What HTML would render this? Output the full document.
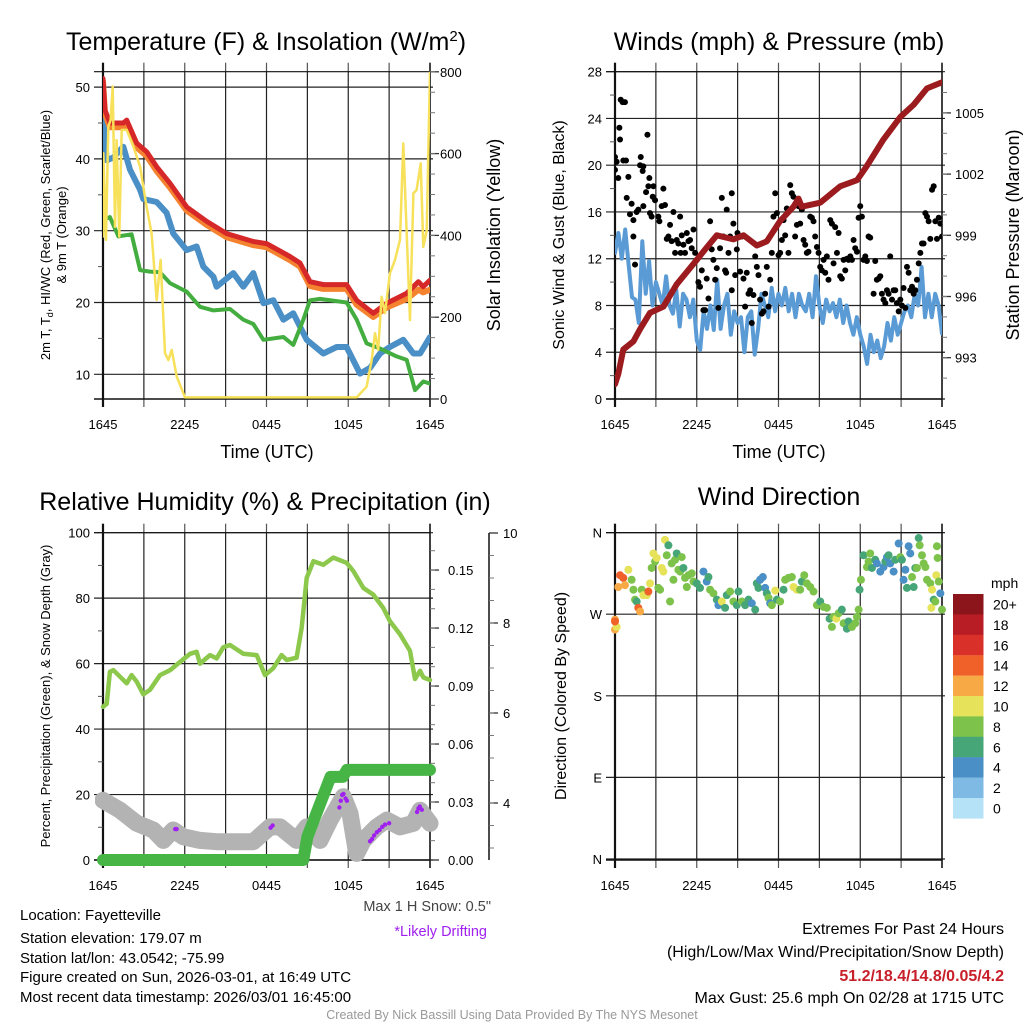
<!DOCTYPE html>
<html><head><meta charset="utf-8">
<style>
html,body{margin:0;padding:0;background:#fff;}
svg{display:block;font-family:"Liberation Sans",Arial,sans-serif;}
</style></head>
<body>
<svg id="fig" width="1024" height="1024" viewBox="0 0 1024 1024" xmlns="http://www.w3.org/2000/svg">
<rect width="1024" height="1024" fill="#fff"/>
<defs>
<clipPath id="c1"><rect x="103" y="71.7" width="327" height="327.3"/></clipPath>
<clipPath id="c2"><rect x="615" y="71.7" width="327" height="327.3"/></clipPath>
<clipPath id="c3"><rect x="95" y="525" width="345" height="345"/></clipPath>
<clipPath id="c4"><rect x="610" y="527" width="340" height="338"/></clipPath>
</defs>
<g id="layer"></g>
<text x="266" y="50" font-size="25" text-anchor="middle">Temperature (F) &amp; Insolation (W/m<tspan dy="-9" font-size="15">2</tspan><tspan dy="9">)</tspan></text>
<text x="779" y="50" font-size="25" text-anchor="middle">Winds (mph) &amp; Pressure (mb)</text>
<text x="265" y="510" font-size="25" text-anchor="middle">Relative Humidity (%) &amp; Precipitation (in)</text>
<text x="779" y="505" font-size="25" text-anchor="middle">Wind Direction</text>
<text x="267" y="458" font-size="18" text-anchor="middle">Time (UTC)</text>
<text x="779" y="458" font-size="18" text-anchor="middle">Time (UTC)</text>
<text transform="translate(500,235) rotate(-90)" font-size="18" text-anchor="middle">Solar Insolation (Yellow)</text>
<text transform="translate(50,235) rotate(-90)" font-size="13" text-anchor="middle">2m T, T<tspan dy="3" font-size="9">d</tspan><tspan dy="-3">, HI/WC (Red, Green, Scarlet/Blue)</tspan></text>
<text transform="translate(66,235) rotate(-90)" font-size="13" text-anchor="middle">&amp; 9m T (Orange)</text>
<text transform="translate(564,235) rotate(-90)" font-size="16" text-anchor="middle">Sonic Wind &amp; Gust (Blue, Black)</text>
<text transform="translate(1019,235) rotate(-90)" font-size="18" text-anchor="middle">Station Pressure (Maroon)</text>
<text transform="translate(50,696) rotate(-90)" font-size="13" text-anchor="middle">Percent, Precipitation (Green), &amp; Snow Depth (Gray)</text>
<text transform="translate(566,696) rotate(-90)" font-size="16" text-anchor="middle">Direction (Colored By Speed)</text>
<text x="491" y="911" font-size="14.5" fill="#444" text-anchor="end">Max 1 H Snow: 0.5"</text>
<text x="487" y="936" font-size="14.5" fill="#a020f0" text-anchor="end">*Likely Drifting</text>
<g font-size="15">
<text x="20" y="920">Location: Fayetteville</text>
<text x="20" y="943">Station elevation: 179.07 m</text>
<text x="20" y="963">Station lat/lon: 43.0542; -75.99</text>
<text x="20" y="982">Figure created on Sun, 2026-03-01, at 16:49 UTC</text>
<text x="20" y="1002">Most recent data timestamp: 2026/03/01 16:45:00</text>
</g>
<g font-size="16" text-anchor="end">
<text x="1004" y="934">Extremes For Past 24 Hours</text>
<text x="1004" y="957">(High/Low/Max Wind/Precipitation/Snow Depth)</text>
<text x="1004" y="981" fill="#c8202a" font-weight="bold">51.2/18.4/14.8/0.05/4.2</text>
<text x="1004" y="1003">Max Gust: 25.6 mph On 02/28 at 1715 UTC</text>
</g>
<text x="512" y="1019" font-size="12.5" fill="#999" text-anchor="middle">Created By Nick Bassill Using Data Provided By The NYS Mesonet</text>
</svg>
<script>
// ---------- DATA ----------
var tTime=[0,0.15,0.51,1.49,1.74,2.47,3.2,3.94,4.92,6.14,7.61,9.08,11.03,12.0,13.72,14.46,15.19,16.17,17.88,18.62,19.84,20.82,22.3,23.15,23.5,24];
var tempRed=[51.2,46.8,45,45,45.4,42.2,41,38.9,36.6,33.3,31.3,29.6,28.5,28.2,26.4,25.5,22.9,22.5,22.5,20.3,18.5,19.9,21.3,22.9,22.2,23.1];
var temp9m=[50.8,46.3,44.4,44.4,44.8,41.6,40.4,38.3,36.0,32.8,30.8,29.1,28.0,27.7,25.9,25.0,22.3,21.9,21.9,19.7,18.0,19.3,20.5,21.8,21.4,21.8];
var wcTime=[0,0.27,0.76,1.49,1.98,2.72,2.96,3.94,4.67,5.16,6.14,6.87,7.36,8.1,8.34,9.57,10.3,11.03,11.77,12.5,13.24,13.97,14.95,16.17,17.15,17.88,18.86,19.6,20.33,21.06,22.04,22.78,23.27,24];
var windChill=[46.8,39.8,40.2,41.7,38.5,35.7,34.4,34,32.5,29.6,27.3,27.8,25,23.6,22.2,24.1,22.2,24.1,19.9,20.3,17.6,18.5,14.8,12.9,13.8,13.8,10.1,10.9,12.9,13.8,14.8,12.9,12.9,15.2];
var tdTime=[0,0.51,1.13,2.1,2.72,3.45,4.18,4.92,6.14,7.12,8.1,9.32,10.3,11.03,11.77,13.24,13.97,14.7,15.19,15.93,17.88,18.62,19.35,20.33,21.55,22.29,22.9,23.51,24];
var dewPoint=[31.5,31.9,29.2,29.5,24.5,24.3,24.2,22.7,21.5,19.4,18.9,19.1,17.6,17.0,14.8,15.2,14.1,17.6,20.3,20.5,20.0,17.6,14.3,13.6,12.5,12.0,7.8,9.0,8.7];
var solTime=[0,0.02,0.22,0.39,0.56,0.71,0.88,1.0,1.2,1.37,1.74,2.23,2.72,3.2,3.57,3.94,4.23,4.55,4.8,5.04,5.41,6.02,18.62,19.35,19.72,19.96,20.2,20.45,20.7,21.06,21.43,21.8,22.04,22.29,22.53,22.78,23.02,23.32,23.51,23.76,24];
var solar=[397,601,389,666,682,764,421,633,397,658,658,617,568,470,405,242,340,112,95,120,55,4,4,30,95,161,120,250,210,307,340,389,625,405,193,503,511,576,372,413,800];
var tempTicks=[10,20,30,40,50];
var solarTicks=[0,200,400,600,800];
var timeLabels=["1645","2245","0445","1045","1645"];

var presTime=[0,0.24,0.61,1.35,1.84,2.57,3.55,4.53,6.0,6.73,7.47,8.69,9.43,10.41,11.14,12.12,13.1,13.47,13.71,15.06,16.53,17.76,18.49,19.71,20.94,21.92,22.9,24];
var pressure=[991.7,992.2,993.4,993.8,994.4,995.2,995.5,996.6,997.8,998.4,999.0,998.8,999.0,998.5,998.7,999.7,1000.4,1000.8,1000.4,1000.6,1001.4,1001.7,1002.4,1003.7,1004.8,1005.4,1006.2,1006.5];
var windStep=0.25;
var windSpeed=[12.5,14.2,12,14.5,11.5,8.7,8.5,6.5,13.5,9,11.8,8,10,9,8,10.5,8,7.3,9.3,6.2,9,8.5,7,8.5,5,4.2,7.5,6,8,5.9,10.2,6,8,9,5.5,7.5,6.5,7,4,7,7.5,3.8,6,9,8,7,9.5,7.5,9,8,9.5,7.5,9,7,9,8,7.5,9,7,10.5,8,6.5,8.5,7.5,8.2,7,8.5,6.5,8,6.5,5.5,7,5.5,4.5,3,5.5,4,5,3.5,4.5,6.5,5,7,5.5,6.5,7.5,8,7,9,8,11.3,7,9,7,9,8,5.6];
var gustTime=[0,0,0.12,0.24,0.32,0.37,0.42,0.56,0.73,0.61,0.81,0.86,0.98,1.1,1.22,1.35,1.35,1.47,1.59,1.71,1.84,1.89,2.03,2.08,2.08,2.28,2.38,2.45,2.52,2.57,2.69,2.77,2.82,2.94,3.18,3.26,3.43,3.55,3.67,3.8,3.92,4.04,4.16,4.29,4.41,4.53,4.65,4.78,4.82,4.9,5.02,5.14,5.27,5.39,5.51,5.63,5.76,5.88,6.0,6.12,6.24,6.37,6.49,6.61,6.73,6.86,6.98,7.1,7.22,7.35,7.47,7.59,7.71,7.84,7.96,8.08,8.16,8.2,8.33,8.45,8.57,8.57,8.69,8.82,8.94,8.99,9.18,9.31,9.43,9.55,9.67,9.8,9.92,10.04,10.16,10.29,10.41,10.53,10.65,10.78,10.9,11.02,11.14,11.27,11.39,11.51,11.63,11.76,11.88,12.0,12.12,12.25,12.37,12.49,12.61,12.73,12.86,12.98,13.1,13.22,13.35,13.47,13.59,13.71,13.84,13.96,14.08,14.2,14.33,14.45,14.57,14.69,14.82,14.94,15.06,15.18,15.31,15.43,15.55,15.67,15.8,15.92,16.04,16.16,16.29,16.41,16.53,16.65,16.78,16.9,17.02,17.14,17.27,17.39,17.51,17.63,17.76,17.88,18.0,18.12,18.24,18.37,18.49,18.61,18.73,18.98,19.1,19.22,19.35,19.47,19.59,19.71,19.84,19.96,20.08,20.2,20.33,20.45,20.57,20.69,20.82,20.94,21.06,21.18,21.31,21.43,21.55,21.67,21.8,21.92,22.04,22.16,22.29,22.41,22.53,22.65,22.78,22.9,23.02,23.14,23.27,23.39,23.51,23.63,23.76,23.88,24.0];
var gustSpeed=[20.7,19.6,20.3,18.9,23.2,22.2,25.6,25.4,25.4,20.4,20.4,17.2,19.0,15.8,16.7,15.3,13.9,11.5,16.0,16.2,20.0,20.7,19.5,19.9,16.5,17.7,22.6,18.2,18.9,15.9,15.6,17.3,18.2,17.0,15.6,15.2,16.5,18.0,16.6,13.7,13.9,14.9,13.5,16.0,12.5,13.6,13.3,15.6,12.5,14.0,13.2,12.5,14.2,13.5,13.6,12.9,14.5,12.5,11.9,10.0,9.6,11.0,7.6,7.6,10.3,8.6,15.2,12.8,11.9,10.2,11.2,7.8,12.9,17.2,13.9,11.0,10.8,16.2,12.5,13.9,17.6,9.3,15.0,10.6,12.8,14.2,10.9,13.9,10.3,7.9,10.8,9.0,9.3,6.5,8.9,12.2,11.3,10.6,8.5,7.3,7.5,9.0,11.3,7.9,10.2,12.5,15.6,17.6,15.9,12.3,12.5,13.6,15.3,14.0,16.3,12.5,18.3,17.6,17.3,13.9,14.9,16.5,15.0,16.2,13.6,13.2,12.5,12.6,15.6,15.5,15.2,13.9,13.0,12.5,11.3,11.0,11.9,10.8,12.2,10.2,15.3,15.0,11.6,14.7,12.5,14.2,10.5,10.3,11.9,11.0,12.0,11.9,12.2,11.9,13.6,12.9,12.6,15.5,16.5,15.6,11.9,12.2,11.8,13.9,13.8,9.0,11.8,10.2,10.3,10.5,9.0,8.5,8.2,9.3,9.0,12.2,8.5,9.3,9.3,8.2,7.5,8.5,8.0,9.5,7.8,11.3,10.8,9.3,9.6,9.0,9.3,10.2,11.6,12.5,13.3,13.3,15.9,15.6,15.2,13.7,17.9,18.2,15.2,13.7,15.5,15.0,13.9];
var windTicks=[0,4,8,12,16,20,24,28];
var presTicks=[993,996,999,1002,1005];

var rhTime=[0,0.27,0.51,0.76,1.25,1.74,2.1,2.47,2.96,3.45,4.18,4.92,5.65,6.39,6.87,7.12,7.85,8.34,8.83,9.32,10.3,11.28,11.89,12.5,13.11,13.48,14.21,14.58,14.95,15.44,16.17,16.9,17.88,18.37,19.11,19.84,20.57,21.06,21.8,22.53,22.9,23.27,23.51,24];
var humidity=[46.8,47.7,57.5,58,56,54,56.5,54.5,50.6,52,56.5,58,60.5,63,63.6,60,62.6,61.6,65,65.7,63,62.6,56.5,58.6,62.6,61.1,61.8,71,86.2,91.3,90.2,92.4,90.8,88.3,83.1,81.1,77,73,69,63.9,55.3,57.8,55.8,55.0];
var precipTime=[0,14.7,15.0,16.7,17.6,17.9,24];
var precip=[0,0,0.012,0.043,0.043,0.0466,0.0466];
var snowTime=[0,1.25,2.47,3.69,4.43,5.16,5.9,7.12,8.34,11.03,12.26,12.99,14.21,14.95,15.93,16.66,17.64,18.13,18.62,19.11,20.09,20.82,21.8,22.78,23.27,24];
var snowDepth=[4.06,3.84,3.55,3.4,3.17,3.4,3.25,3.17,3.14,3.14,3.47,3.47,3.17,3.47,3.17,3.62,4.14,3.77,2.88,3.17,3.47,3.62,3.47,3.55,3.84,3.55];
var driftTime=[5.3,5.4,12.3,12.45,17.35,17.45,17.55,17.65,17.8,17.9,19.6,19.75,19.9,20.1,20.3,20.5,20.7,21.0,23.05,23.15,23.25,23.4];
var driftDepth=[3.42,3.42,3.45,3.5,3.9,4.05,4.18,4.2,4.1,4.05,3.15,3.2,3.28,3.35,3.4,3.47,3.52,3.55,3.8,3.88,3.92,3.85];
var rhTicks=[0,20,40,60,80,100];
var precipTicks=["0.00","0.03","0.06","0.09","0.12","0.15"];
var snowTicks=[4,6,8,10];

var dirTime=[0,0,0.12,0,0.24,0.37,0.61,0.73,0.98,1.22,1.35,1.47,1.59,1.71,1.84,1.96,2.08,2.33,2.45,2.57,2.69,2.82,2.94,3.06,3.18,3.31,3.43,3.55,3.67,3.8,3.92,4.04,4.16,4.29,4.41,4.53,4.65,4.78,4.9,5.02,5.14,5.27,5.39,5.63,5.76,6.0,6.24,6.49,6.73,6.86,6.98,7.22,7.47,7.59,7.84,8.08,8.2,8.45,8.69,8.94,9.06,9.31,9.55,9.8,10.04,10.29,10.41,10.53,10.65,10.85,11.02,11.14,11.27,11.39,11.51,11.76,11.88,12.12,12.37,12.49,12.73,12.98,13.1,13.35,13.59,13.71,13.89,14.08,14.33,14.57,14.82,15.06,15.31,15.55,15.75,15.92,16.04,16.24,16.41,16.65,16.78,17.02,17.14,17.39,17.63,17.76,17.88,17.95,18.05,18.24,18.49,18.61,18.73,18.86,19.1,19.22,19.47,19.71,19.84,19.96,20.08,20.2,20.45,20.57,20.82,20.94,21.06,21.18,21.31,21.43,21.55,21.67,21.8,21.92,22.04,22.16,22.29,22.36,22.53,22.65,22.78,22.9,23.14,23.22,23.27,23.39,23.51,23.58,23.63,23.68,23.76,23.88,24.0];
var direction=[264,253,256,262,300,313,310,302,319,308,297,286,284,277,273,297,291,291,295,304,321,337,328,332,299,297,321,317,352,335,346,284,326,308,330,337,319,317,333,321,310,300,313,315,306,304,299,317,306,311,297,293,286,280,284,277,291,295,284,280,295,284,280,286,282,275,304,299,308,311,299,293,288,282,280,296,286,284,297,308,310,311,300,297,297,306,313,304,300,295,280,284,278,277,265,256,267,265,271,275,260,254,262,256,260,267,275,297,308,335,322,328,337,321,330,326,317,322,328,333,335,326,317,330,348,333,330,308,319,299,345,337,311,300,321,321,354,346,335,326,322,308,304,277,297,286,284,313,345,332,306,293,275];
var dirSpeed=[13,13,11,15,13,15,15,13,11,9,9,9,7,15,13,9,11,11,15,11,9,11,9,11,9,9,11,11,11,9,7,9,9,9,9,7,9,9,9,7,9,9,9,9,9,7,7,5,5,7,9,9,7,5,11,7,7,9,9,7,7,9,7,7,5,7,7,7,5,5,5,7,9,5,9,11,7,9,7,9,9,9,11,11,9,7,9,9,9,9,9,7,9,9,7,9,9,11,9,7,9,7,7,9,9,9,9,7,9,7,9,9,9,7,7,5,5,5,7,5,7,5,5,7,5,9,7,5,5,7,5,5,9,7,7,9,7,9,9,9,9,9,9,11,11,7,9,11,9,9,9,5,9];
var dirLabels=["N","E","S","W","N"];
var speedBins=["0","2","4","6","8","10","12","14","16","18","20+"];
var speedColors=["#b5e2f7","#7ebae4","#4a8fc6","#47a677","#7cc24b","#e6e25a","#f6a945","#f0612a","#d9302a","#b81c24","#8b151b"];

// ---------- DRAW ----------
var NS="http://www.w3.org/2000/svg";
var layer=document.getElementById('layer');
function mk(tag,attrs,parent){var e=document.createElementNS(NS,tag);for(var k in attrs)e.setAttribute(k,attrs[k]);(parent||layer).appendChild(e);return e;}
function txt(x,y,s,size,anchor,parent){var t=mk('text',{x:x,y:y,'font-size':size,'text-anchor':anchor},parent);t.textContent=s;return t;}

var P1={x0:103,x1:430,t:71.7,b:399};
var P2={x0:615,x1:942,t:71.7,b:399};
var P3={x0:103,x1:430,t:532.7,b:860};
var P4={x0:615,x1:942,t:532.7,b:860};
function sx(P,h){return P.x0+h/24*(P.x1-P.x0);}
function yTemp(v){return 374.3-(v-10)*7.18;}
function ySolar(v){return 399-v*0.409;}
function yWind(v){return 399-v*11.69;}
function yPres(v){return 357.7-(v-993)*20.4;}
function yRH(v){return 860-v*3.273;}
function yPrecip(v){return 860-v*1933;}
function ySnow(v){return 803-(v-4)*45;}
function yDir(v){return 859-v*0.9067;}

function frame(P,name,hTicks,yfun){
  var g=mk('g',{});
  
  
  for(var i=0;i<=8;i++){var x=sx(P,i*3);
    mk('line',{x1:x,y1:P.t,x2:x,y2:P.b,stroke:'#222','stroke-width':1.2},g);
    mk('line',{x1:x,y1:P.t-9,x2:x,y2:P.t,stroke:'#555','stroke-width':1.2},g);
    mk('line',{x1:x,y1:P.b,x2:x,y2:P.b+8,stroke:'#555','stroke-width':1.2},g);}
  hTicks.forEach(function(v){var y=yfun(v);
    mk('line',{x1:P.x0-9,y1:y,x2:P.x1+3,y2:y,stroke:'#222','stroke-width':1.2},g);});
  mk('line',{x1:P.x0-9,y1:P.t,x2:P.x1,y2:P.t,stroke:'#111','stroke-width':1.2},g);
  mk('line',{x1:P.x0-9,y1:P.b,x2:P.x1,y2:P.b,stroke:'#111','stroke-width':1.5},g);
  mk('line',{x1:P.x0,y1:P.t-9,x2:P.x0,y2:P.b+8,stroke:'#111','stroke-width':2.2},g);
  mk('line',{x1:P.x1,y1:P.t-9,x2:P.x1,y2:P.b+8,stroke:'#111','stroke-width':1.5},g);
  var lg=mk('g',{});
  
  
  timeLabels.forEach(function(s,i){txt(sx(P,i*6),P.b+30,s,13,'middle',lg);});
}
function polyline(P,times,vals,yfun,color,width,clip,name){
  var pts=times.map(function(h,i){return sx(P,h).toFixed(1)+','+yfun(vals[i]).toFixed(1);}).join(' ');
  var e=mk('polyline',{points:pts,fill:'none',stroke:color,'stroke-width':width,'stroke-linejoin':'round','stroke-linecap':'round','clip-path':'url(#'+clip+')'});
  
  
  return e;
}
function leftTicks(P,ticks,yfun,labels,minor,name){
  var g=mk('g',{});
  
  
  ticks.forEach(function(v,i){txt(P.x0-13,yfun(v)+5,labels?labels[i]:String(v),13,'end',g);});
  (minor||[]).forEach(function(v){var y=yfun(v);mk('line',{x1:P.x0-5,y1:y,x2:P.x0,y2:y,stroke:'#555','stroke-width':1},g);});
}
function rightTicks(x,ticks,yfun,labels,minor,name,lx){
  var g=mk('g',{});
  
  
  ticks.forEach(function(v,i){var y=yfun(v);mk('line',{x1:x,y1:y,x2:x+9,y2:y,stroke:'#333','stroke-width':1.3},g);txt(lx,y+5,labels?labels[i]:String(v),13,'start',g);});
  (minor||[]).forEach(function(v){var y=yfun(v);mk('line',{x1:x,y1:y,x2:x+5,y2:y,stroke:'#777','stroke-width':1},g);});
}
function range(a,b,s){var r=[];for(var v=a;v<=b+1e-9;v+=s)r.push(Math.round(v*1000)/1000);return r;}

// Panel 1
frame(P1,'temp-panel',tempTicks,yTemp);
leftTicks(P1,tempTicks,yTemp,null,[15,25,35,45],'temp-y-ticks');
rightTicks(P1.x1,solarTicks,ySolar,null,range(50,800,50),'solar-y-ticks',440);
polyline(P1,wcTime,windChill,yTemp,'#4a8fc6',6,'c1','wind-chill-line');
polyline(P1,tdTime,dewPoint,yTemp,'#43ad3f',4,'c1','dewpoint-line');
polyline(P1,tTime,temp9m,yTemp,'#f5822e',6,'c1','temp-9m-line');
polyline(P1,tTime,tempRed,yTemp,'#d62828',5,'c1','temp-2m-line');
polyline(P1,solTime,solar,ySolar,'#f7e15a',2.5,'c1','solar-line');

// Panel 2
frame(P2,'winds-panel',windTicks,yWind);
leftTicks(P2,windTicks,yWind,null,range(2,26,4),'wind-y-ticks');
rightTicks(P2.x1,presTicks,yPres,null,range(992,1006,1),'pressure-y-ticks',955);
var wTimes=windSpeed.map(function(v,i){return i*windStep;});
polyline(P2,wTimes,windSpeed,yWind,'#5a9bd5',4,'c2','sonic-wind-line');
var gg=mk('g',{'clip-path':'url(#c2)'});


gustTime.forEach(function(h,i){
  var c=mk('circle',{cx:sx(P2,h),cy:yWind(gustSpeed[i]),r:3,fill:'#000'},gg);
  
  
});
polyline(P2,presTime,pressure,yPres,'#9b1b1e',6,'c2','pressure-line');

// Panel 3
frame(P3,'humidity-panel',rhTicks,yRH);
leftTicks(P3,rhTicks,yRH,null,[10,30,50,70,90],'rh-y-ticks');
rightTicks(P3.x1,precipTicks.map(Number),yPrecip,precipTicks,range(0.01,0.16,0.01),'precip-y-ticks',448);
var sa=mk('line',{x1:489,y1:533,x2:489,y2:860,stroke:'#111','stroke-width':1.5});


rightTicks(489,snowTicks,ySnow,null,range(3,9.5,0.5),'snow-y-ticks',503);
polyline(P3,snowTime,snowDepth,ySnow,'#b3b3b3',17,'c3','snow-depth-line');
var dg=mk('g',{'clip-path':'url(#c3)'});


driftTime.forEach(function(h,i){
  var c=mk('circle',{cx:sx(P3,h),cy:ySnow(driftDepth[i]),r:2.2,fill:'#a020f0'},dg);
  
  
});
polyline(P3,rhTime,humidity,yRH,'#8cc84b',4.5,'c3','humidity-line');
polyline(P3,precipTime,precip,yPrecip,'#47b545',12,'c3','precip-line');

// Panel 4
frame(P4,'direction-panel',[0,90,180,270,360],yDir);
leftTicks(P4,[0,90,180,270,360],yDir,dirLabels,null,'direction-y-ticks');
var pg=mk('g',{'clip-path':'url(#c4)'});


direction.forEach(function(d,i){
  var bin=Math.min(10,Math.floor(dirSpeed[i]/2));
  var c=mk('circle',{cx:sx(P4,dirTime[i]),cy:yDir(d),r:4,fill:speedColors[bin]},pg);
  
  
});
var cb=mk('g',{});


txt(991,588,'mph',14,'start',cb);
for(var i=0;i<11;i++){
  var k=10-i;var y=594+i*20.4;
  var r=mk('rect',{x:953,y:y,width:30.5,height:20.6,fill:speedColors[k]},cb);
  
  
  txt(993,y+15.5,speedBins[k],14,'start',cb);
}
</script>
</body></html>
